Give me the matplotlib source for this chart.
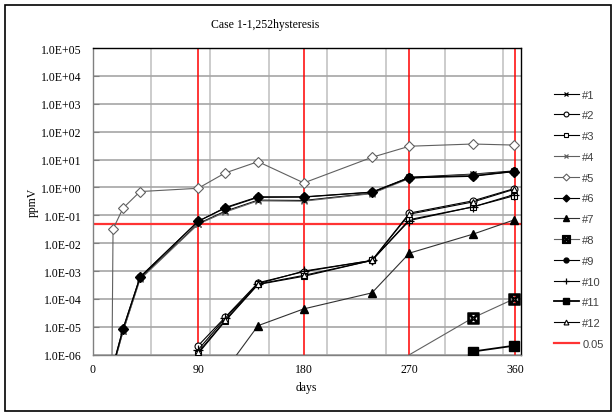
import matplotlib
matplotlib.use("Agg")
import matplotlib.pyplot as plt
from matplotlib.patches import Rectangle
from matplotlib.ticker import FixedLocator, LogLocator, NullFormatter

# ---------------- data ----------------
title = "Case 1-1,252hysteresis"
xlabel = "days"
ylabel = "ppmV"

days_a = [17.5, 26, 40.5, 90, 113, 141, 180, 238, 270, 324, 359]
days_b = [90, 113, 141, 180, 238, 270, 324, 359]

s1 = [3.5e-7, 7e-6, 5.5e-4, 0.05, 0.14, 0.35, 0.34, 0.62, 2.3, 3.0, 3.9]
s2 = [2.1e-6, 2.2e-5, 3.8e-4, 9.5e-4, 2.4e-3, 0.12, 0.33, 0.9]
s3 = [1.1e-6, 1.6e-5, 3.3e-4, 6.5e-4, 2.4e-3, 0.07, 0.2, 0.5]
s4 = [3.5e-7, 6.8e-6, 5e-4, 0.048, 0.13, 0.33, 0.32, 0.6, 2.1, 2.9, 3.6]
days5 = [12, 17.5, 26, 40.5, 90, 113, 141, 180, 238, 270, 324, 359]
s5 = [1e-30, 0.032, 0.18, 0.71, 0.93, 3.3, 8.4, 1.45, 12, 30, 36, 33]
s6 = [4e-7, 8.5e-6, 6e-4, 0.062, 0.18, 0.44, 0.45, 0.67, 2.2, 2.5, 3.7]
days7 = [113, 141, 180, 238, 270, 324, 359]
s7 = [2.7e-7, 1.1e-5, 4.4e-5, 1.65e-4, 4.4e-3, 0.021, 0.068]
days8 = [270, 324, 359]
s8 = [1e-6, 2.1e-5, 1.0e-4]
s9 = [4e-7, 8.5e-6, 6.2e-4, 0.06, 0.19, 0.46, 0.46, 0.68, 2.3, 2.6, 3.8]
s10 = [1.5e-6, 2.0e-5, 3.5e-4, 1.0e-3, 2.4e-3, 0.065, 0.2, 0.55]
days11 = [270, 324, 359]
s11 = [1e-8, 1.3e-6, 2.1e-6]
s12 = [1.2e-6, 1.7e-5, 3.4e-4, 7e-4, 2.4e-3, 0.11, 0.3, 0.85]

limit_x = [0, 365]
limit_y = [0.05, 0.05]
limit_label = "0.05"
red_days = [90, 180, 270, 360]

xticks = [0, 90, 180, 270, 360]
xgrid = [50, 100, 150, 200, 250, 300, 350]
yticks = [1e-6, 1e-5, 1e-4, 1e-3, 1e-2, 1e-1, 1e0, 1e1, 1e2, 1e3, 1e4, 1e5]
ytick_labels = ["1.0E-06", "1.0E-05", "1.0E-04", "1.0E-03", "1.0E-02", "1.0E-01",
                "1.0E+00", "1.0E+01", "1.0E+02", "1.0E+03", "1.0E+04", "1.0E+05"]

# ---------------- figure ----------------
W, H = 614, 414
fig = plt.figure(figsize=(W / 100, H / 100), dpi=100)
fig.patches.append(Rectangle((5 / W, 2 / H), 606 / W, 406 / H, transform=fig.transFigure,
                             fill=False, edgecolor="black", linewidth=1.2))

ax = fig.add_axes([92.5 / W, 58.3 / H, 428.5 / W, 306.7 / H])
ax.set_yscale("log")
ax.set_xlim(0, 365)
ax.set_ylim(1e-6, 1e5)

serif = "Liberation Serif"
sans = "Liberation Sans"

# grid
ax.xaxis.set_minor_locator(FixedLocator(xgrid))
ax.set_xticks(xticks)
ax.set_xticklabels([str(t) for t in xticks], family=serif, fontsize=8.5)
ax.set_yticks(yticks)
ax.set_yticklabels(ytick_labels, family=serif, fontsize=8.5)
ax.yaxis.set_minor_locator(LogLocator(base=10, subs=range(2, 10)))
ax.yaxis.set_minor_formatter(NullFormatter())
ax.grid(True, which="minor", axis="x", color="#c8c8c8", linewidth=1.3, zorder=0)
ax.grid(True, which="major", axis="y", color="#a6a6a6", linewidth=1.2, zorder=0)
ax.grid(False, which="major", axis="x")
ax.grid(False, which="minor", axis="y")
ax.tick_params(axis="x", which="both", length=0, pad=6)
ax.tick_params(axis="y", which="major", direction="in", length=4, pad=8, color="#808080")
ax.tick_params(axis="y", which="minor", direction="in", length=2, color="#a0a0a0")
ax.set_axisbelow(True)
for side in ["left", "bottom"]:
    ax.spines[side].set_color("#808080")
    ax.spines[side].set_linewidth(1.0)
for side in ["top", "right"]:
    ax.spines[side].set_color("black")
    ax.spines[side].set_linewidth(1.0)

for d in red_days:
    ax.axvline(d, color="#ff0000", linewidth=1.1, zorder=1)

common = dict(linewidth=0.8, zorder=3)
ax.plot(days_a, s1, color="black", marker="x", markersize=4.5, mew=0.9, label="#1", **common)
ax.plot(days_b, s2, color="black", marker="o", markersize=5, mfc="white", mew=0.8, label="#2", **common)
ax.plot(days_b, s3, color="black", marker="s", markersize=4.5, mfc="white", mew=0.8, label="#3", **common)
ax.plot(days_a, s4, color="#606060", marker="x", markersize=4.5, mew=0.9, label="#4", **common)
ax.plot(days5, s5, color="#606060", marker="D", markersize=5, mfc="white", mew=0.8, label="#5", **common)
ax.plot(days_a, s6, color="black", marker="D", markersize=5, mfc="black", label="#6", **common)
ax.plot(days7, s7, color="#303030", marker="^", markersize=6, mfc="black", mec="black", label="#7", **common)
ax.plot(days8, s8, color="#606060", marker=r"$\boxtimes$", markersize=8, mfc="#808080", mec="black",
        markevery=[1, 2], label="#8", **common)
ax.plot(days_a, s9, color="black", marker="o", markersize=5, mfc="black", label="#9", **common)
ax.plot(days_b, s10, color="black", marker="+", markersize=7, mew=0.9, label="#10", **common)
ax.plot(days11, s11, color="black", marker="s", markersize=6.5, mfc="black", label="#11",
        linewidth=1.3, zorder=3)
ax.plot(days_b, s12, color="black", marker="^", markersize=5, mfc="white", mew=0.8, label="#12", **common)
ax.plot(limit_x, limit_y, color="#ff3333", linewidth=1.6, zorder=2, label=limit_label)

leg = ax.legend(loc="upper left", bbox_to_anchor=(548 / W, 1 - 85 / H), bbox_transform=fig.transFigure,
                frameon=False, prop={"family": sans, "size": 8}, labelspacing=0.97,
                handlelength=2.3, handletextpad=0.3, borderpad=0, markerscale=0.7)
for t in leg.get_texts():
    t.set_color("#404040")

fig.text(265 / W, 1 - 25 / H, title, ha="center", va="center", family=serif, fontsize=8.5)
fig.text(306 / W, 1 - 388 / H, xlabel, ha="center", va="center", family=serif, fontsize=8.5)
fig.text(33 / W, 1 - 202 / H, ylabel, ha="center", va="center", rotation=90, family=serif, fontsize=8.5)

fig.savefig("out.png", dpi=100)
